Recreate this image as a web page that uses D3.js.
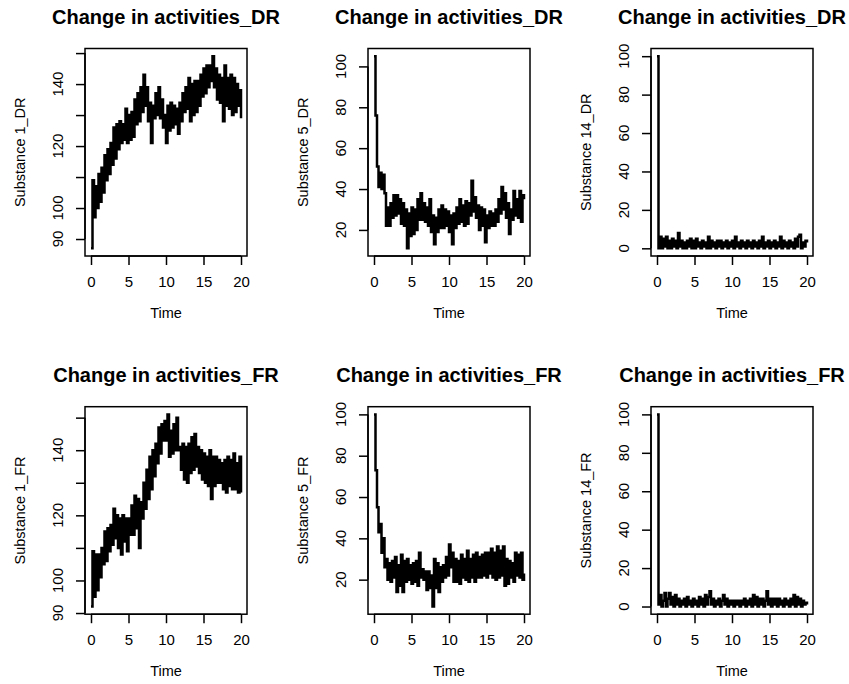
<!DOCTYPE html>
<html>
<head>
<meta charset="utf-8">
<script src="https://cdn.jsdelivr.net/npm/d3@7"></script>
<style>
  body { margin: 0; background: #fff; }
  svg { display: block; }
  text { font-family: "Liberation Sans", Arial, sans-serif; fill: #000; }
</style>
</head>
<body>
<svg id="chart" width="849" height="684"></svg>
<script>
// Simulated activity of each substance, sampled every 0.2 time units (t = 0 … 20)
const sampleStep = 0.2;

const sub1DR = [
  87,109,97,107,100,111,102,113,105,117,
  109,119,111,121,114,126,116,127,119,128,
  121,127,122,132,121,130,122,131,123,135,
  127,137,128,139,131,143,133,139,128,134,
  121,133,129,137,130,139,129,135,126,130,
  121,133,125,134,126,133,127,132,124,134,
  128,137,131,139,132,142,128,140,130,141,
  131,141,133,143,136,145,137,146,139,146,
  141,149,139,145,135,143,134,142,128,146,
  133,142,132,143,130,142,131,140,133,138,
  129
];

const sub5DR = [
  105,76,51,41,48,40,47,38,22,31,
  22,33,26,37,27,37,28,35,23,33,
  22,30,11,28,17,31,18,30,20,35,
  25,38,25,33,24,31,22,35,19,27,
  13,26,19,30,21,32,21,30,22,29,
  19,27,13,28,21,31,23,35,24,32,
  22,34,23,33,27,44,29,36,26,32,
  20,31,22,30,14,27,21,29,22,28,
  22,30,24,35,28,41,30,38,26,33,
  18,30,25,39,27,35,26,39,24,37,
  35
];

const sub14DR = [
  100,0,6,0,5,1,6,0,4,0,
  5,1,4,0,8,1,4,0,3,0,
  4,1,5,0,4,0,5,1,3,0,
  4,1,3,0,6,0,4,1,3,0,
  4,1,4,0,3,1,4,0,3,1,
  4,0,6,1,3,0,4,1,3,0,
  4,1,3,0,4,1,3,0,4,1,
  6,0,3,1,4,0,3,1,4,0,
  3,1,6,0,4,1,3,0,4,1,
  3,0,5,1,6,7,0,3,1,4,
  3
];

const sub1FR = [
  92,109,95,108,97,108,101,110,105,115,
  106,116,109,117,111,122,113,120,110,119,
  108,120,112,119,109,119,114,123,114,126,
  116,125,110,124,119,130,122,134,125,138,
  128,140,132,142,136,147,139,148,143,149,
  143,151,138,146,139,148,140,150,140,141,
  134,142,131,141,130,142,133,144,134,145,
  135,141,133,140,131,139,130,138,129,140,
  125,138,129,138,130,137,130,136,128,137,
  127,138,129,137,128,139,128,136,127,138,
  127
];

const sub5FR = [
  100,73,55,43,47,33,40,26,30,20,
  28,19,29,21,31,14,27,17,32,14,
  29,19,30,20,27,18,28,19,29,17,
  33,21,25,20,24,15,24,16,22,7,
  30,16,28,14,26,19,27,21,31,22,
  37,26,33,19,30,19,29,18,32,21,
  30,20,34,19,30,21,32,19,33,21,
  31,21,32,22,33,21,33,23,35,21,
  33,20,36,21,34,22,36,17,30,18,
  29,21,28,19,33,22,32,21,33,20,
  23
];

const sub14FR = [
  100,1,6,0,3,7,0,4,7,1,
  5,0,6,1,4,0,3,1,4,0,
  5,1,3,0,4,1,3,0,5,1,
  4,0,6,1,5,8,1,4,0,3,
  1,4,0,3,6,1,4,0,3,1,
  3,0,3,1,3,0,3,1,4,0,
  3,1,4,0,6,1,5,0,4,1,
  4,0,3,8,1,4,0,4,1,4,
  0,4,1,3,0,4,1,3,0,4,
  1,6,0,5,1,4,0,3,1,2,
  1
];

// Axis ticks and the labels printed beside them
const timeTicks = [0, 5, 10, 15, 20];
const ticksSub1 = [90, 100, 110, 120, 130, 140, 150];
const labelsSub1 = ["90", "100", "", "120", "", "140", ""];
const ticksSub5 = [20, 40, 60, 80, 100];
const labelsSub5 = ["20", "40", "60", "80", "100"];
const ticksSub14 = [0, 20, 40, 60, 80, 100];
const labelsSub14 = ["0", "20", "40", "60", "80", "100"];

const titles = ["Change in activities_DR", "Change in activities_FR"];
const yTitles = [
  ["Substance 1_DR", "Substance 5_DR", "Substance 14_DR"],
  ["Substance 1_FR", "Substance 5_FR", "Substance 14_FR"]
];
const seriesGrid = [
  [sub1DR, sub5DR, sub14DR],
  [sub1FR, sub5FR, sub14FR]
];
const tickGrid = [ticksSub1, ticksSub5, ticksSub14];
const labelGrid = [labelsSub1, labelsSub5, labelsSub14];

// Panel layout (3 columns x 2 rows)
const colLeft = [85, 368, 651];
const rowTop = [48.5, 406.7];
const boxW = 162, boxH = 207.5;

const svg = d3.select("#chart");

seriesGrid.forEach((row, r) => {
  row.forEach((values, c) => {
    const left = colLeft[c], top = rowTop[r];
    const right = left + boxW, bottom = top + boxH;
    const g = svg.append("g");

    // R-style 4% padding around the data range
    const x = d3.scaleLinear().domain([-0.8, 20.8]).range([left, right]);
    const ext = d3.extent(values);
    const pad = (ext[1] - ext[0]) * 0.04;
    const y = d3.scaleLinear().domain([ext[0] - pad, ext[1] + pad]).range([bottom, top]);

    // Jump-process trajectory: hold each level until the next sample
    const line = d3.line()
      .curve(d3.curveStepAfter)
      .x((d, i) => x(i * sampleStep))
      .y(d => y(d));

    g.append("path")
      .datum(values)
      .attr("d", line)
      .attr("fill", "none")
      .attr("stroke", "#000")
      .attr("stroke-width", 2.5);

    // Plot frame
    g.append("rect")
      .attr("x", left).attr("y", top)
      .attr("width", boxW).attr("height", boxH)
      .attr("fill", "none").attr("stroke", "#000").attr("stroke-width", 1.5);

    // Time axis
    const xAxis = g.append("g")
      .attr("transform", `translate(0,${bottom})`)
      .call(d3.axisBottom(x).tickValues(timeTicks).tickSize(9).tickSizeOuter(0).tickPadding(11));
    xAxis.select(".domain").attr("d", `M${x(0)},0H${x(20)}`).attr("stroke-width", 1.5);
    xAxis.selectAll(".tick line").attr("stroke-width", 1.5);
    xAxis.selectAll(".tick text")
      .attr("font-family", '"Liberation Sans", Arial, sans-serif')
      .attr("font-size", 15).attr("fill", "#000");

    // Value axis with rotated labels
    const yTicks = tickGrid[c];
    const yLabels = labelGrid[c];
    const yAxis = g.append("g")
      .attr("transform", `translate(${left},0)`)
      .call(d3.axisLeft(y).tickValues(yTicks).tickSize(9).tickSizeOuter(0).tickFormat(() => ""));
    yAxis.select(".domain")
      .attr("d", `M0,${y(yTicks[0])}V${y(yTicks[yTicks.length - 1])}`)
      .attr("stroke-width", 1.5);
    yAxis.selectAll(".tick line").attr("stroke-width", 1.5);

    g.selectAll(".ylab")
      .data(yTicks.map((v, i) => ({ v, label: yLabels[i] })).filter(d => d.label !== ""))
      .join("text")
      .attr("class", "ylab")
      .attr("transform", d => `translate(${left - 22},${y(d.v)}) rotate(-90)`)
      .attr("text-anchor", "middle")
      .attr("font-size", 15)
      .text(d => d.label);

    // Titles
    g.append("text")
      .attr("x", (left + right) / 2).attr("y", top - 24.5)
      .attr("text-anchor", "middle")
      .attr("font-size", 20).attr("font-weight", "bold")
      .text(titles[r]);

    g.append("text")
      .attr("x", (left + right) / 2).attr("y", bottom + 62)
      .attr("text-anchor", "middle")
      .attr("font-size", 14.5)
      .text("Time");

    g.append("text")
      .attr("transform", `translate(${left - 60.5},${(top + bottom) / 2}) rotate(-90)`)
      .attr("text-anchor", "middle")
      .attr("font-size", 14.5)
      .text(yTitles[r][c]);
  });
});
</script>
</body>
</html>
